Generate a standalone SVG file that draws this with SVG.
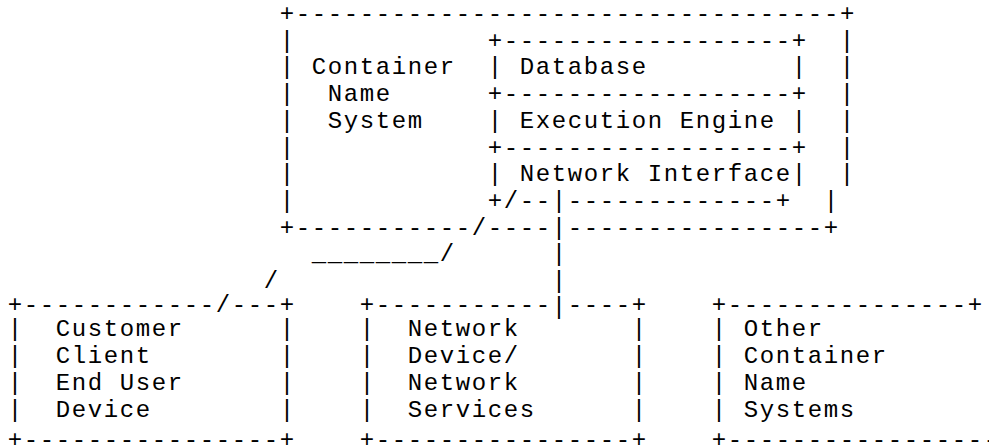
<svg xmlns="http://www.w3.org/2000/svg" width="989" height="446" viewBox="0 0 989 446">
<style>
text { font-family: "Liberation Mono", "Courier New", monospace; font-size: 24px; letter-spacing: 1.6px; white-space: pre; fill: #000; }
</style>
<rect x="0" y="0" width="989" height="446" fill="#fff"/>
<g id="cns">
<text x="279.8" y="21">+----------------------------------+</text>
<text x="279.8" y="47.7">|</text><text x="839.8" y="47.7">|</text>
<text x="279.8" y="74.4">|</text><text x="839.8" y="74.4">|</text>
<text x="279.8" y="101.1">|</text><text x="839.8" y="101.1">|</text>
<text x="279.8" y="127.8">|</text><text x="839.8" y="127.8">|</text>
<text x="279.8" y="154.5">|</text><text x="839.8" y="154.5">|</text>
<text x="279.8" y="181.2">|</text><text x="839.8" y="181.2">|</text>
<text x="279.8" y="207.9">|</text><text x="823.8" y="207.9">|</text>
<text x="279.8" y="234.6">+-----------</text>
<text x="487.8" y="234.6">----</text>
<text x="567.8" y="234.6">----------------+</text>
<text x="311.8" y="74.4">Container</text>
<text x="327.8" y="101.1">Name</text>
<text x="327.8" y="127.8">System</text>
</g>
<g id="database">
<text x="487.8" y="47.7">+------------------+</text>
<text x="487.8" y="74.4">|</text><text x="791.8" y="74.4">|</text>
<text x="519.8" y="74.4">Database</text>
<text x="487.8" y="101.1">+------------------+</text>
</g>
<g id="exec">
<text x="487.8" y="127.8">|</text><text x="791.8" y="127.8">|</text>
<text x="519.8" y="127.8" xml:space="preserve">Execution Engine</text>
<text x="487.8" y="154.5">+------------------+</text>
</g>
<g id="netif">
<text x="487.8" y="181.2">|</text><text x="791.8" y="181.2">|</text>
<text x="519.8" y="181.2" xml:space="preserve">Network Interface</text>
<text x="487.8" y="207.9">+</text>
<text x="519.8" y="207.9">--</text>
<text x="567.8" y="207.9">-------------+</text>
</g>
<g id="client">
<text x="7.8" y="312">+------------</text>
<text x="231.8" y="312">---+</text>
<text x="7.8" y="336.4">|</text><text x="279.8" y="336.4">|</text>
<text x="7.8" y="363.1">|</text><text x="279.8" y="363.1">|</text>
<text x="7.8" y="389.8">|</text><text x="279.8" y="389.8">|</text>
<text x="7.8" y="416.5">|</text><text x="279.8" y="416.5">|</text>
<text x="55.8" y="336.4">Customer</text>
<text x="55.8" y="363.1">Client</text>
<text x="55.8" y="389.8" xml:space="preserve">End User</text>
<text x="55.8" y="416.5">Device</text>
<text x="7.8" y="447">+----------------+</text>
</g>
<g id="netdev">
<text x="359.8" y="312">+-----------</text>
<text x="567.8" y="312">----+</text>
<text x="359.8" y="336.4">|</text><text x="631.8" y="336.4">|</text>
<text x="359.8" y="363.1">|</text><text x="631.8" y="363.1">|</text>
<text x="359.8" y="389.8">|</text><text x="631.8" y="389.8">|</text>
<text x="359.8" y="416.5">|</text><text x="631.8" y="416.5">|</text>
<text x="407.8" y="336.4">Network</text>
<text x="407.8" y="363.1">Device/</text>
<text x="407.8" y="389.8">Network</text>
<text x="407.8" y="416.5">Services</text>
<text x="359.8" y="447">+----------------+</text>
</g>
<g id="other">
<text x="711.8" y="312">+---------------+</text>
<text x="711.8" y="336.4">|</text>
<text x="711.8" y="363.1">|</text>
<text x="711.8" y="389.8">|</text>
<text x="711.8" y="416.5">|</text>
<text x="743.8" y="336.4">Other</text>
<text x="743.8" y="363.1">Container</text>
<text x="743.8" y="389.8">Name</text>
<text x="743.8" y="416.5">Systems</text>
<text x="711.8" y="447">+-----------------</text>
</g>
<g id="connectors">
<text x="503.8" y="207.9">/</text>
<text x="471.8" y="234.6">/</text>
<text x="311.8" y="261.3">________/</text>
<text x="263.8" y="288">/</text>
<text x="215.8" y="312">/</text>
<text x="551.8" y="207.9">|</text>
<text x="551.8" y="234.6">|</text>
<text x="551.8" y="261.3">|</text>
<text x="551.8" y="288">|</text>
<text x="551.8" y="314">|</text>
</g>
</svg>
